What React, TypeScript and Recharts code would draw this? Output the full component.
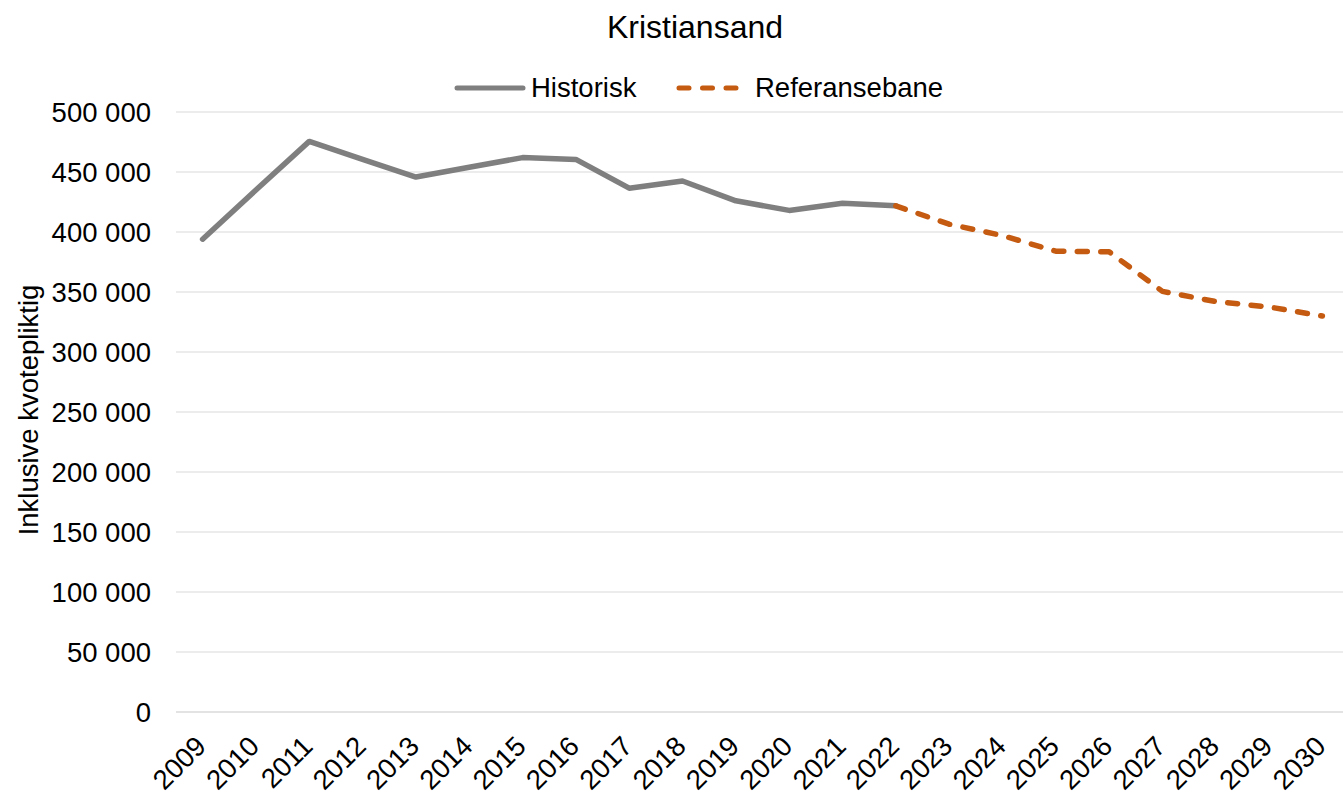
import React from 'react';
import { LineChart, Line, XAxis, YAxis, CartesianGrid } from 'recharts';

const years = ['2009','2010','2011','2012','2013','2014','2015','2016','2017','2018','2019','2020','2021','2022','2023','2024','2025','2026','2027','2028','2029','2030'];
const historisk: (number | null)[] = [394000, 435000, 475500, 460500, 445800, 454000, 462000, 460500, 436500, 442500, 426000, 418000, 424000, 421800, null, null, null, null, null, null, null, null];
const referansebane: (number | null)[] = [null, null, null, null, null, null, null, null, null, null, null, null, null, 421800, 406500, 397000, 384000, 383500, 350500, 342000, 337500, 330000];
const yTicks = [0, 50000, 100000, 150000, 200000, 250000, 300000, 350000, 400000, 450000, 500000];

const title = 'Kristiansand';
const yLabel = 'Inklusive kvotepliktig';
const seriesNames = ['Historisk', 'Referansebane'];

const data = years.map((y, i) => ({ year: y, historisk: historisk[i], referansebane: referansebane[i] }));

const FONT = '"Liberation Sans", Arial, sans-serif';
const GREY = '#7f7f7f';
const ORANGE = '#c55a11';

const fmt = (v: number) => String(v).replace(/\B(?=(\d{3})+(?!\d))/g, ' ');

const XTick = (props: any) => {
  const { x, y, payload } = props;
  const tx = x + 5;
  const ty = y + 36;
  return (
    <text x={tx} y={ty} textAnchor="end" fontSize={27.5} fill="#000" fontFamily={FONT} transform={`rotate(-45, ${tx}, ${ty})`}>
      {payload.value}
    </text>
  );
};

export default function App() {
  return (
    <div style={{ position: 'absolute', left: 0, top: 0, width: 1343, height: 792, overflow: 'hidden', background: '#fff', fontFamily: FONT }}>
      <svg width={1343} height={110} style={{ position: 'absolute', left: 0, top: 0 }}>
        <text x={695} y={38} textAnchor="middle" fontSize={32} fill="#000" fontFamily={FONT}>{title}</text>
        <line x1={457} y1={88} x2={523} y2={88} stroke={GREY} strokeWidth={5} strokeLinecap="round" />
        <text x={531} y={97} fontSize={27.5} fill="#000" fontFamily={FONT}>{seriesNames[0]}</text>
        <line x1={679} y1={88} x2={740} y2={88} stroke={ORANGE} strokeWidth={5} strokeLinecap="round" strokeDasharray="10 13.5" />
        <text x={755} y={97} fontSize={27.5} fill="#000" fontFamily={FONT}>{seriesNames[1]}</text>
      </svg>
      <div style={{ position: 'absolute', left: 0, top: 0 }}>
        <LineChart width={1349} height={792} data={data} margin={{ top: 112, right: 0, bottom: 0, left: 0 }}>
          <CartesianGrid vertical={false} stroke="#d9d9d9" strokeWidth={1.2} />
          <XAxis
            dataKey="year"
            height={80}
            padding={{ left: 26.6, right: 26.6 }}
            tickLine={false}
            tickSize={0}
            tickMargin={0}
            axisLine={{ stroke: '#d9d9d9', strokeWidth: 1.2 }}
            interval={0}
            tick={<XTick />}
          />
          <YAxis
            width={176}
            domain={[0, 500000]}
            ticks={yTicks}
            tickFormatter={fmt}
            axisLine={false}
            tickLine={false}
            tickSize={0}
            tickMargin={25}
            tick={{ fontSize: 27.5, fill: '#000', fontFamily: FONT }}
            label={{
              content: () => (
                <text x={38} y={410} textAnchor="middle" fontSize={27.5} fill="#000" fontFamily={FONT} transform="rotate(-90, 38, 410)">
                  {yLabel}
                </text>
              ),
            }}
          />
          <Line type="linear" dataKey="historisk" stroke={GREY} strokeWidth={5.5} strokeLinecap="round" strokeLinejoin="round" dot={false} isAnimationActive={false} connectNulls={false} />
          <Line type="linear" dataKey="referansebane" stroke={ORANGE} strokeWidth={5.5} strokeLinecap="round" strokeLinejoin="round" strokeDasharray="10 13.5" dot={false} isAnimationActive={false} connectNulls={false} />
        </LineChart>
      </div>
    </div>
  );
}
